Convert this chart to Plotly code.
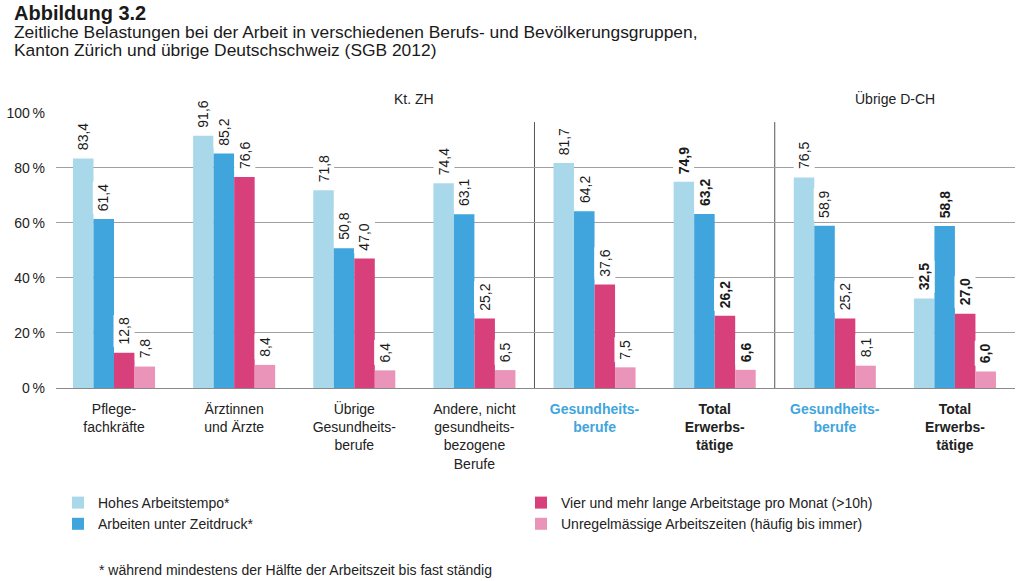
import plotly.graph_objects as go

# ---------------- data ----------------
group_labels = [
    "Pflege-<br>fachkräfte",
    "Ärztinnen<br>und Ärzte",
    "Übrige<br>Gesundheits-<br>berufe",
    "Andere, nicht<br>gesundheits-<br>bezogene<br>Berufe",
    "<b><span style='color:#41a5dd'>Gesundheits-<br>berufe</span></b>",
    "<b>Total<br>Erwerbs-<br>tätige</b>",
    "<b><span style='color:#41a5dd'>Gesundheits-<br>berufe</span></b>",
    "<b>Total<br>Erwerbs-<br>tätige</b>",
]
series_names = [
    "Hohes Arbeitstempo*",
    "Arbeiten unter Zeitdruck*",
    "Vier und mehr lange Arbeitstage pro Monat (>10h)",
    "Unregelmässige Arbeitszeiten (häufig bis immer)",
]
hohes_tempo = [83.4, 91.6, 71.8, 74.4, 81.7, 74.9, 76.5, 32.5]
zeitdruck = [61.4, 85.2, 50.8, 63.1, 64.2, 63.2, 58.9, 58.8]
lange_tage = [12.8, 76.6, 47.0, 25.2, 37.6, 26.2, 25.2, 27.0]
unregelmaessig = [7.8, 8.4, 6.4, 6.5, 7.5, 6.6, 8.1, 6.0]
bold_groups = [False, False, False, False, False, True, False, True]
region_labels = ["Kt. ZH", "Übrige D-CH"]
y_ticks = [0, 20, 40, 60, 80, 100]

title_text = "Abbildung 3.2"
subtitle_lines = [
    "Zeitliche Belastungen bei der Arbeit in verschiedenen Berufs- und Bevölkerungsgruppen,",
    "Kanton Zürich und übrige Deutschschweiz (SGB 2012)",
]
footnote = "* während mindestens der Hälfte der Arbeitszeit bis fast ständig"

series_values = [hohes_tempo, zeitdruck, lange_tage, unregelmaessig]
colors = ["#a9d8ea", "#41a5dd", "#d8407c", "#e994b8"]
legend_ranks = [1, 3, 2, 4]

FONT = "Liberation Sans, Arial, sans-serif"
BARGAP = 0.317
n_series = len(series_values)
bar_w = (1 - BARGAP) / n_series
xs = list(range(len(group_labels)))

L, R, T, B = 56, 8, 112, 193
W, H = 1023, 581
pw, ph = W - L - R, H - T - B


def px_x(px):
    return (px - L) / pw


def px_y(py):
    return (H - py - B) / ph


fig = go.Figure()
for name, vals, col, rank in zip(series_names, series_values, colors, legend_ranks):
    fig.add_trace(go.Bar(
        x=xs, y=vals, name=name, marker=dict(color=col, line=dict(width=0)),
        legendrank=rank, hoverinfo="skip",
    ))

annotations = []
for s, vals in enumerate(series_values):
    for g, v in enumerate(vals):
        txt = f"{v:.1f}".replace(".", ",")
        if bold_groups[g]:
            txt = f"<b>{txt}</b>"
        annotations.append(dict(
            x=g + (s - (n_series - 1) / 2) * bar_w, y=v, xref="x", yref="y",
            text=txt, textangle=-90, showarrow=False, yanchor="bottom",
            xanchor="center", yshift=5, bgcolor="white", borderpad=2,
            font=dict(family=FONT, size=14, color="#1a1a1a"),
        ))

# region headers
for xpos, lab in zip([2.5, 6.5], region_labels):
    annotations.append(dict(x=xpos, y=100, xref="x", yref="y", text=lab,
                            showarrow=False, yanchor="bottom", yshift=4,
                            font=dict(family=FONT, size=14, color="#222")))

# title block (single annotation, tight line spacing)
head = (f"<span style='font-size:20px'><b>{title_text}</b></span><br>"
        + "<br>".join(f"<span style='font-size:17.4px'>{t}</span>" for t in subtitle_lines))
annotations.append(dict(x=px_x(12), y=px_y(0), xref="paper", yref="paper", text=head,
                        showarrow=False, xanchor="left", yanchor="top", align="left",
                        font=dict(family=FONT, size=14, color="#1a1a1a")))
annotations.append(dict(x=px_x(97), y=px_y(570), xref="paper", yref="paper",
                        text=footnote, showarrow=False, xanchor="left", yanchor="middle",
                        font=dict(family=FONT, size=14, color="#222")))

shapes = [
    dict(type="line", xref="x", yref="y", x0=3.5, x1=3.5, y0=0, y1=96.6,
         line=dict(color="#555", width=1), layer="below"),
    dict(type="line", xref="x", yref="y", x0=5.5, x1=5.5, y0=0, y1=96.6,
         line=dict(color="#555", width=1), layer="below"),
    dict(type="line", xref="x", yref="y", x0=5.44, x1=5.56, y0=100, y1=100,
         line=dict(color="white", width=3), layer="above"),
]

fig.update_layout(
    width=W, height=H,
    margin=dict(l=L, r=R, t=T, b=B, pad=0, autoexpand=False),
    paper_bgcolor="white", plot_bgcolor="white",
    barmode="group", bargap=BARGAP, bargroupgap=0,
    font=dict(family=FONT, size=14, color="#222"),
    showlegend=True,
    legend=dict(orientation="h", x=px_x(58), y=px_y(487),
                xanchor="left", yanchor="top", entrywidth=418, entrywidthmode="pixels",
                traceorder="normal", font=dict(family=FONT, size=14, color="#222"),
                bgcolor="rgba(0,0,0,0)", itemclick=False, tracegroupgap=0),
    annotations=annotations,
    shapes=shapes,
    xaxis=dict(range=[-0.483, 7.5], tickvals=xs, ticktext=group_labels,
               showgrid=False, zeroline=False, showline=False, ticks="",
               automargin=False,
               ticklabelstandoff=11, tickfont=dict(family=FONT, size=14, color="#222"),
               fixedrange=True),
    yaxis=dict(range=[0, 100.25], tickvals=y_ticks,
               ticktext=[f"{t}\u2009%" for t in y_ticks],
               showgrid=True, gridcolor="#a0a0a0", gridwidth=1,
               zeroline=True, zerolinecolor="#8a8a8a", zerolinewidth=1,
               showline=False, ticks="", ticklabelstandoff=10, automargin=False,
               tickfont=dict(family=FONT, size=14, color="#222"), fixedrange=True),
)

fig.write_html("out.html", config={"displayModeBar": False, "staticPlot": False},
               post_script="document.body.style.margin='0';document.body.style.overflow='hidden';")
